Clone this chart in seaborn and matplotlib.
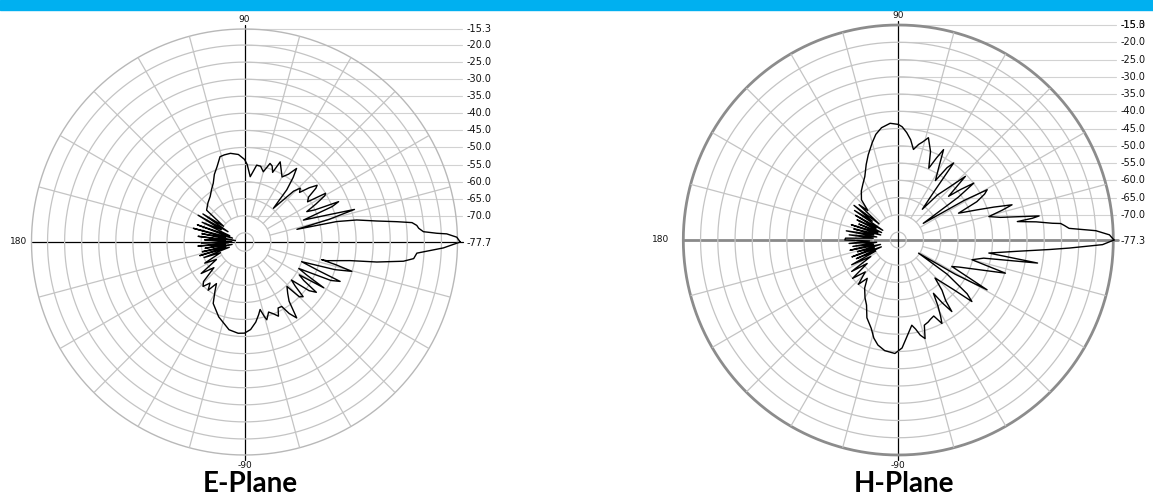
import numpy as np
import matplotlib
matplotlib.use("Agg")
import matplotlib.pyplot as plt
import seaborn as sns
from matplotlib.patches import Rectangle

sns.set_theme(style="white")
plt.rcParams['font.family'] = ['DejaVu Sans']

# ---------------- data ----------------
E_ANGLES = [0, 1.3, 2.3, 2.6, 3.3, 4.5, 5.5, 6.6, 7.6, 9.0, 11.1, 12.5, 13.6, 15.0, 16.5, 18.0,
            20.4, 22.0, 23.2, 24.5, 26.0, 28.0, 30.0, 31.0, 32.5, 35.0, 37.0, 38.0, 40.0, 42.0,
            44.0, 46.0, 49.4, 51.0, 53.0, 54.7, 57.0, 60.0, 63.0, 66.0, 68.0, 70.0, 72.0, 75.0,
            78.0, 81.0, 85.0, 88.0, 90.0, 94.0, 99.0, 103.0, 106.0, 110.0, 114.0, 118.0, 122.0,
            127.0, 133.0, 140.0, 143, 146, 148, 150, 152, 155, 157, 160, 162, 165, 167, 169, 171,
            173, 175, 177, 179, 181, 183, 185, 187, 189, 191, 193, 195, 197, 199, 201, 204, 208,
            212, 216, 220, 224, 227, 230, 233, 236, 239, 243, 248, 251, 255.5, 260, 266, 270, 274,
            278, 281, 283, 285, 286, 289, 292, 294.6, 297, 300, 302, 304.5, 307, 310, 313.7, 315,
            317, 319, 321, 323, 325, 327, 329, 330, 332, 334, 336, 337.6, 339, 341, 343, 344.7,
            346, 347.1, 347.2, 350, 351.4, 353.1, 354.4, 356.3, 358.3, 360]
E_DB = [-14.5, -15.5, -18.4, -21.3, -25.2, -26.5, -27.0, -28.3, -32.7, -38.4, -44.2, -50.0, -61.9,
        -52.0, -44.1, -52.0, -59.3, -50.0, -47.7, -55.0, -57.4, -54.0, -50.5, -50.0, -55.8, -54.8,
        -51.5, -50.7, -53.0, -56.0, -55.0, -57.0, -64.7, -58.0, -54.0, -51.3, -54.0, -55.7, -54.0,
        -52.0, -55.7, -54.0, -53.5, -56.4, -55.0, -54.9, -58.5, -55.0, -53.5, -52.0, -51.4, -51.5,
        -51.7, -54.2, -56.0, -58.2, -59.5, -61.0, -62.0, -63.2, -70, -63, -72, -62, -70, -64, -73,
        -63, -74, -62.2, -72, -65, -75, -64, -72, -66, -74, -65, -73, -64, -72, -66, -74, -65, -72,
        -64, -73, -65, -70, -64.5, -68, -62, -66, -61, -59.9, -62, -60, -63, -60.9, -57.5, -55.8,
        -54.5, -53.2, -51.6, -50.9, -51.0, -52.0, -54.0, -56.0, -57.4, -55.0, -54.0, -56.0, -55.0,
        -53.8, -56.0, -55.9, -53.0, -50.7, -56.0, -58.0, -59.7, -55.0, -54.2, -58.0, -60.0, -54.0,
        -52.0, -57.0, -59.0, -50.9, -57.0, -60.0, -50.0, -47.4, -55.0, -60.0, -50.0, -45.1, -50.0,
        -54.5, -53.0, -46.3, -38.5, -30.8, -27.9, -27.1, -19.4, -14.5]

H_ANGLES = [0, 1.4, 2.7, 3.9, 5.0, 5.8, 6.2, 7.5, 8.8, 9.2, 9.7, 11.0, 12.5, 14.5, 16.0, 17.2, 19.0,
            21.0, 24.0, 26.0, 28.0, 29.5, 31.0, 33.7, 35.5, 37.0, 39.0, 41.0, 43.5, 46.0, 49.0, 52.0,
            53.5, 54.3, 56.0, 58.0, 61.0, 63.4, 65.0, 67.0, 70.0, 73.6, 76.0, 78.0, 80.5, 83.0, 85.5,
            88.0, 90.0, 94.0, 98.5, 102.0, 105.0, 109.4, 113.0, 117.8, 122.0, 127.0, 132.5, 136, 138,
            140, 142, 144, 146, 148, 150, 152, 154, 156, 158, 160, 162, 164, 166, 168, 170, 172, 174,
            176, 178, 180, 182, 184, 186, 188, 190, 192, 194, 196, 198, 200, 202, 204, 206, 208, 211,
            214, 217, 220, 224, 228, 231, 235, 240, 244, 248, 253, 256, 259, 263, 268.3, 272, 276,
            279, 281, 283, 285.2, 287, 290, 292, 295, 297.6, 299, 301, 303.4, 305, 306.8, 308, 311,
            314, 318, 320.1, 322, 325, 327, 329, 330.7, 333.7, 336, 340, 342.8, 345, 348, 349.5,
            350.6, 351.8, 354.6, 356.4, 357.3, 358.7, 360]
H_DB = [-14.8, -16.1, -20.0, -27.7, -29.0, -30.0, -32.4, -37.0, -42.4, -38.0, -35.9, -42.0, -47.0,
        -50.2, -46.0, -42.8, -48.0, -53.0, -58.2, -52.0, -49.0, -47.7, -55.0, -68.6, -56.0, -49.9,
        -54.0, -58.0, -50.5, -56.0, -60.0, -66.0, -60.0, -49.8, -52.0, -57.0, -53.0, -48.0, -51.0,
        -54.7, -50.0, -46.4, -48.0, -49.0, -50.7, -48.0, -46.1, -44.5, -43.8, -43.4, -44.4, -46.0,
        -48.1, -51.1, -53.5, -56.5, -58.0, -59.5, -61.5, -65, -62, -70, -61, -68, -62, -72, -63, -70,
        -64, -72, -65, -71, -63, -72, -64, -70, -62, -71, -63, -70, -62, -61.8, -69, -63, -71, -64,
        -70, -63, -72, -65, -70, -63, -72, -64, -70, -62, -68, -61, -66, -60, -64, -60, -63, -60.3,
        -58.0, -56.3, -53.0, -50.5, -48.0, -46.3, -45.0, -44.4, -46.0, -50.0, -52.3, -51.0, -49.0,
        -47.7, -51.5, -52.0, -52.5, -53.0, -50.0, -52.0, -55.0, -58.8, -55.0, -51.4, -55.0, -58.0,
        -62.0, -56.0, -49.5, -52.0, -60.0, -70.3, -58.0, -47.8, -60.0, -58.0, -52.0, -44.8, -55.2,
        -52.0, -45.0, -36.4, -50.8, -42.6, -33.4, -27.7, -18.1, -14.8]

E_RANGE = (-77.7, -15.3)
H_RANGE = (-77.3, -15.0)
RING_VALUES = [-75, -70, -65, -60, -55, -50, -45, -40, -35, -30, -25, -20]
LABEL_VALUES = [-20, -25, -30, -35, -40, -45, -50, -55, -60, -65, -70]
E_TOP_LABELS = ["-15.3"]
H_TOP_LABELS = ["-15.0", "-15.3"]
E_BOTTOM_LABEL = "-77.7"
H_BOTTOM_LABEL = "-77.3"
ANGLE_LABELS = ["90", "180", "-90"]
TITLES = ["E-Plane", "H-Plane"]

# ---------------- figure ----------------
W, H = 1153, 500
fig = plt.figure(figsize=(W / 100, H / 100), dpi=100)
fig.patch.set_facecolor("white")

ov = fig.add_axes([0, 0, 1, 1])
ov.set_xlim(0, W)
ov.set_ylim(H, 0)
ov.axis("off")
ov.add_patch(Rectangle((0, 0), W, 9.5, color="#00B0F0", zorder=5))

GRID = "#c4c4c4"
TXT = "#111111"


def draw_plane(cx, cy, R, rng, angles, db, top_labels, bottom_label, title,
               outer_color, outer_lw, hcolor, hlw, label_x, left_off, top_off, bot_off):
    rmin, rmax = rng
    ax = fig.add_axes([(cx - R) / W, (H - cy - R) / H, 2 * R / W, 2 * R / H], projection="polar")
    ax.set_facecolor("none")
    ax.set_ylim(rmin, rmax)
    ax.grid(False)
    ax.set_xticks([])
    ax.set_yticks([])
    ax.spines["polar"].set_visible(False)
    th = np.linspace(0, 2 * np.pi, 721)
    for r in RING_VALUES:
        ax.plot(th, np.full_like(th, r), color=GRID, lw=0.9, zorder=1)
    ax.plot(th, np.full_like(th, rmax), color=outer_color, lw=outer_lw, zorder=1, clip_on=False)
    for d in range(15, 360, 15):
        if d % 90 == 0:
            continue
        a = np.deg2rad(d)
        ax.plot([a, a], [-70, rmax], color=GRID, lw=0.9, zorder=1)

    sns.lineplot(x=np.deg2rad(angles), y=db, ax=ax, color="black", lw=1.0,
                 sort=False, estimator=None, legend=False, zorder=4)
    ax.lines[-1].set_clip_on(False)
    ax.set_xlabel("")
    ax.set_ylabel("")

    def ypix(v):
        return cy - (v - rmin) / (rmax - rmin) * R

    for v in LABEL_VALUES:
        y = ypix(v)
        ov.plot([cx, label_x - 5], [y, y], color="#d2d2d2", lw=0.8, zorder=0)
        ov.text(label_x, y, f"{v:.1f}", fontsize=7, va="center", ha="left", color=TXT)
    y = ypix(rmax)
    ov.plot([cx, label_x - 5], [y, y], color="#d2d2d2", lw=0.8, zorder=0)
    for t in top_labels:
        ov.text(label_x, y, t, fontsize=7, va="center", ha="left", color=TXT)
    ov.text(label_x, cy + 1, bottom_label, fontsize=7, va="center", ha="left", color=TXT)

    ov.plot([cx - R, cx + R + 5], [cy, cy], color=hcolor, lw=hlw, zorder=3)
    ov.plot([cx, cx], [cy - R - 4, cy + R + 5], color="black", lw=0.9, zorder=3)

    ov.text(cx, cy - R - top_off, ANGLE_LABELS[0], fontsize=6.5, ha="center", va="center", color=TXT)
    ov.text(cx - R - left_off, cy, ANGLE_LABELS[1], fontsize=6.5, ha="right", va="center", color=TXT)
    ov.text(cx, cy + R + bot_off, ANGLE_LABELS[2], fontsize=6.5, ha="center", va="center", color=TXT)
    ov.text(cx + 6, 484, title, fontsize=20, fontweight="bold", family=["Lato", "DejaVu Sans"],
            ha="center", va="center", color="black")


draw_plane(244.5, 242, 213, E_RANGE, E_ANGLES, E_DB, E_TOP_LABELS, E_BOTTOM_LABEL, TITLES[0],
           "#b8b8b8", 1.0, "black", 0.9, 467, 4, 10, 11)
draw_plane(898.3, 240, 215, H_RANGE, H_ANGLES, H_DB, H_TOP_LABELS, H_BOTTOM_LABEL, TITLES[1],
           "#8c8c8c", 2.0, "#8a8a8a", 2.0, 1121, 14, 10, 10)

fig.savefig("out.png", dpi=100, facecolor="white")
